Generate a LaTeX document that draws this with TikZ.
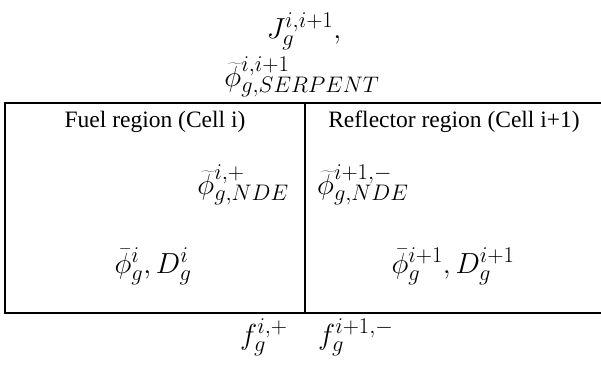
\RequirePackage{fix-cm}
\documentclass[tikz,border=0pt]{standalone}
\usepackage{fontspec}
\setmainfont{Liberation Serif}
\DeclareMathSizes{29}{29}{22.5}{17}
\newcommand{\tphi}{\widetilde{\phi}}
\begin{document}
\begin{tikzpicture}[x=1pt,y=-1pt,
  lbl/.style={inner sep=0pt, font=\fontsize{23.5}{28}\selectfont},
  mth/.style={inner sep=0pt, font=\fontsize{29}{34}\selectfont},
  wall/.style={line width=2pt}]
\useasboundingbox (0,0) rectangle (601,365);
\coordinate (tl) at (5,103);
\coordinate (tr) at (602,103);
\coordinate (bl) at (5,313);
\coordinate (br) at (602,313);
\coordinate (dt) at (305,103);
\coordinate (db) at (305,313);
\draw[wall] (tr) -- (tl) -- (bl) -- (br);
\draw[wall] (dt) -- (db);
\node[mth, anchor=base] (J) at (304,38) {$J_g^{i,i+1},$};
\node[mth, anchor=base] (S) at (302,86) {$\tphi^{i,i+1}_{g,SERPENT}$};
\node[lbl, anchor=base] (fuel) at (155,127) {Fuel region (Cell i)};
\node[lbl, anchor=base] (refl) at (454,127) {Reflector region (Cell i+1)};
\node[mth, anchor=base east] (nL) at (289,194) {$\tphi^{i,+}_{g,NDE}$};
\node[mth, anchor=base west] (nR) at (317,194) {$\tphi^{i+1,-}_{g,NDE}$};
\node[mth, anchor=base] (bL) at (153,273) {$\bar{\phi}^{i}_{g}, D^{i}_{g}$};
\node[mth, anchor=base] (bR) at (453,273) {$\bar{\phi}^{i+1}_{g}, D^{i+1}_{g}$};
\node[mth, anchor=base west] (fL) at (240,344) {$f^{i,+}_g$};
\node[mth, anchor=base west] (fR) at (318,344) {$f^{i+1,-}_g$};
\end{tikzpicture}
\end{document}
